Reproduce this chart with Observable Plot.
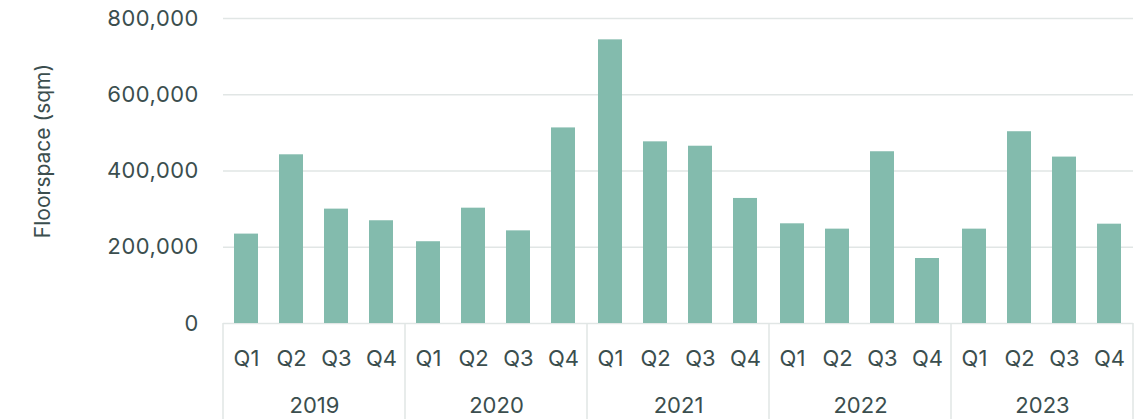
<!DOCTYPE html>
<html>
<head>
<meta charset="utf-8">
<script src="https://cdn.jsdelivr.net/npm/d3@7"></script>
<script src="https://cdn.jsdelivr.net/npm/@observablehq/plot@0.6"></script>
<style>
  html, body { margin: 0; padding: 0; background: #ffffff; }
  #chart svg { display: block; }
</style>
</head>
<body>
<div id="chart"></div>
<script>
const years = ["2019", "2020", "2021", "2022", "2023"];
const quarters = ["Q1", "Q2", "Q3", "Q4"];
const floorspace = [
  234500, 442500, 300000, 269500,
  214500, 302500, 243000, 513000,
  744000, 476500, 465000, 328000,
  261500, 247500, 450500, 170500,
  247500, 503000, 436500, 260500
];
const yTicks = [0, 200000, 400000, 600000, 800000];
const yLabel = "Floorspace (sqm)";

const data = floorspace.map((v, i) => ({
  year: years[Math.floor(i / 4)],
  quarter: quarters[i % 4],
  value: v
}));

const textColor = "#3b4e4e";
const gridColor = "#e1e6e5";

const plot = Plot.plot({
  width: 1143,
  height: 419,
  marginLeft: 222,
  marginRight: 10,
  marginTop: 18,
  marginBottom: 96,
  style: { fontFamily: "Inter, sans-serif", fontSize: "22px", color: textColor, background: "#ffffff" },
  fx: { domain: years, padding: 0, label: null },
  x: { domain: quarters, paddingInner: 0.46, paddingOuter: 0.23, label: null },
  y: { domain: [0, 800000], label: null },
  marks: [
    Plot.gridY({ ticks: yTicks, stroke: gridColor, strokeOpacity: 1, strokeWidth: 1.5 }),
    Plot.barY(data, { fx: "year", x: "quarter", y: "value", fill: "#83bbad" }),
    Plot.axisY({ ticks: yTicks, tickSize: 0, tickPadding: 25, tickFormat: d3.format(","), label: null }),
    Plot.axisX({ tickSize: 0, tickPadding: 27, label: null }),
    Plot.axisFx({ anchor: "bottom", tickSize: 0, tickPadding: 74, label: null }),
    Plot.text([yLabel], { text: d => d, facet: "super", frameAnchor: "left", textAnchor: "middle", rotate: -90, dx: -180, dy: -20, fontSize: 21 })
  ]
});

document.getElementById("chart").appendChild(plot);

// Year-group dividers drawn from the plot's own fx and y scales
const fxs = plot.scale("fx");
const ys = plot.scale("y");
const bounds = years.map(y => fxs.apply(y)).concat([fxs.apply(years[years.length - 1]) + fxs.bandwidth]);
const y0 = ys.apply(0);
const svg = d3.select(plot);
svg.append("g")
  .attr("stroke", gridColor)
  .attr("stroke-width", 1.5)
  .selectAll("line")
  .data(bounds)
  .join("line")
  .attr("x1", d => d).attr("x2", d => d)
  .attr("y1", y0).attr("y2", 419);
</script>
</body>
</html>
